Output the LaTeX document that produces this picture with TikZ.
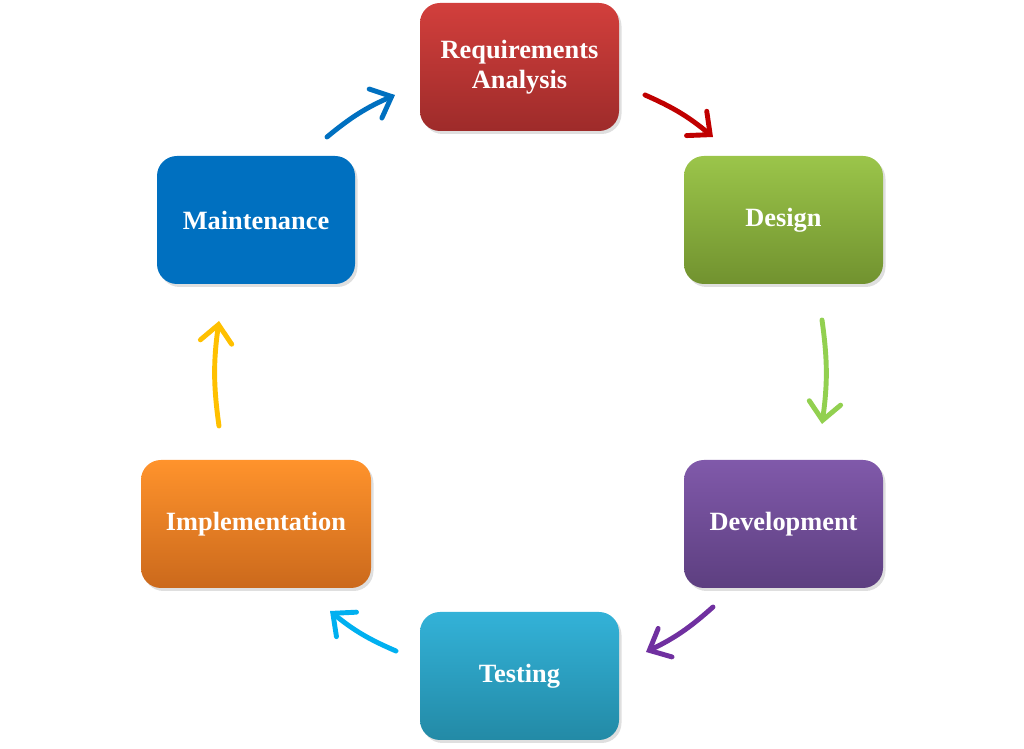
\documentclass[tikz,border=0pt]{standalone}
\usepackage{fontspec}
\setmainfont{Liberation Serif}
\usetikzlibrary{arrows.meta,shadows}

\definecolor{reqtop}{HTML}{D23F3C}\definecolor{reqbot}{HTML}{9E2B2A}
\definecolor{destop}{HTML}{9BC54A}\definecolor{desbot}{HTML}{71922F}
\definecolor{devtop}{HTML}{8059AA}\definecolor{devbot}{HTML}{5D3F80}
\definecolor{tsttop}{HTML}{33B2D8}\definecolor{tstbot}{HTML}{238AA6}
\definecolor{imptop}{HTML}{FF932C}\definecolor{impbot}{HTML}{CB691C}
\definecolor{mntcol}{HTML}{0070C0}
\definecolor{arrred}{HTML}{C00000}
\definecolor{arrgreen}{HTML}{92D050}
\definecolor{arrpurple}{HTML}{7030A0}
\definecolor{arrcyan}{HTML}{00B0F0}
\definecolor{arryellow}{HTML}{FFC000}

\tikzset{
  phase/.style={rounded corners=0.4cm, minimum width=3.98cm, minimum height=2.56cm,
    align=center, text=white, font=\fontsize{15}{17}\selectfont\bfseries,
    drop shadow={opacity=0.25, shadow xshift=0.05cm, shadow yshift=-0.06cm}},
  cyclearrow/.style={line width=2.8pt, line cap=round,
    -{Straight Barb[length=10pt,width=18pt,line cap=round]}, bend left=8}
}

\begin{document}
\begin{tikzpicture}
  \useasboundingbox (0,0) rectangle (20.48,14.98);

  % phases
  \node[phase, top color=reqtop, bottom color=reqbot] (req) at (10.39,13.64) {Requirements\\Analysis};
  \node[phase, top color=destop, bottom color=desbot] (design) at (15.67,10.58) {Design};
  \node[phase, top color=devtop, bottom color=devbot] (dev) at (15.67,4.50) {Development};
  \node[phase, top color=tsttop, bottom color=tstbot] (test) at (10.39,1.46) {Testing};
  \node[phase, top color=imptop, bottom color=impbot, minimum width=4.60cm] (impl) at (5.12,4.50) {Implementation};
  \node[phase, fill=mntcol, minimum width=3.96cm] (maint) at (5.12,10.58) {Maintenance};

  % arrow ends
  \coordinate (mr1) at (6.54,12.24);  \coordinate (mr2) at (7.90,13.08);
  \coordinate (rd1) at (12.90,13.08); \coordinate (rd2) at (14.26,12.24);
  \coordinate (dv1) at (16.44,8.58);  \coordinate (dv2) at (16.44,6.50);
  \coordinate (vt1) at (14.26,2.84);  \coordinate (vt2) at (12.92,1.94);
  \coordinate (ti1) at (7.92,1.96);   \coordinate (ti2) at (6.60,2.76);
  \coordinate (im1) at (4.38,6.46);   \coordinate (im2) at (4.38,8.56);

  \draw[cyclearrow, mntcol] (mr1) to (mr2);
  \draw[cyclearrow, arrred] (rd1) to (rd2);
  \draw[cyclearrow, arrgreen] (dv1) to (dv2);
  \draw[cyclearrow, arrpurple] (vt1) to (vt2);
  \draw[cyclearrow, arrcyan] (ti1) to (ti2);
  \draw[cyclearrow, arryellow] (im1) to (im2);
\end{tikzpicture}
\end{document}
